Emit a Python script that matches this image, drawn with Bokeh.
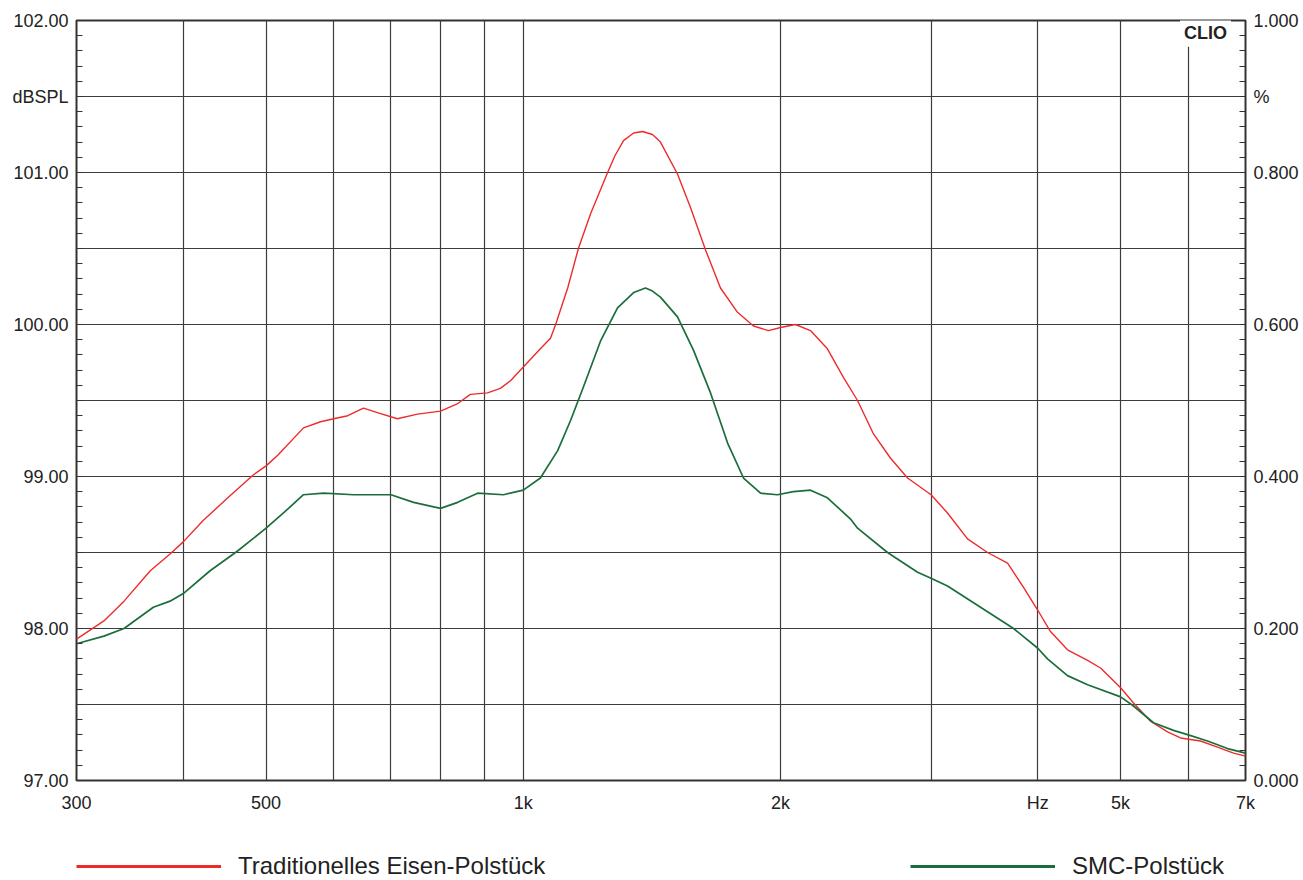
from bokeh.plotting import figure
from bokeh.layouts import column
from bokeh.models import (FixedTicker, NumeralTickFormatter, LinearAxis, Range1d,
                          Label, Legend, LegendItem, ColumnDataSource)
from bokeh.embed import file_html
from bokeh.resources import INLINE

# ---- data ----
red_freq = [300, 323, 341, 366, 386, 400, 422, 451, 483, 500, 516, 553, 579, 600, 623, 650, 675, 712,
            752, 800, 838, 867, 908, 940, 966, 1000, 1047, 1076, 1091, 1127, 1160, 1199, 1255, 1280,
            1310, 1346, 1379, 1416, 1447, 1515, 1569, 1634, 1701, 1781, 1859, 1936, 2000, 2082, 2168,
            2269, 2370, 2461, 2569, 2690, 2816, 3000, 3136, 3310, 3493, 3687, 3849, 4000, 4139, 4333,
            4574, 4737, 5000, 5177, 5420, 5673, 5876, 6201, 6491, 6778, 7000]
red_db = [97.93, 98.05, 98.18, 98.38, 98.49, 98.57, 98.71, 98.86, 99.01, 99.07, 99.14, 99.32, 99.36,
          99.38, 99.40, 99.45, 99.42, 99.38, 99.41, 99.43, 99.48, 99.54, 99.55, 99.58, 99.63, 99.72,
          99.84, 99.91, 100.0, 100.24, 100.50, 100.73, 101.0, 101.11, 101.21, 101.26, 101.27, 101.25,
          101.20, 100.99, 100.77, 100.49, 100.24, 100.08, 99.99, 99.96, 99.98, 100.0, 99.96, 99.84,
          99.65, 99.50, 99.28, 99.12, 98.99, 98.88, 98.76, 98.59, 98.50, 98.43, 98.27, 98.12, 97.98,
          97.86, 97.79, 97.74, 97.61, 97.51, 97.39, 97.32, 97.28, 97.26, 97.22, 97.18, 97.16]

green_freq = [300, 323, 341, 369, 386, 400, 430, 463, 500, 524, 553, 584, 633, 700, 744, 800, 838, 884,
              948, 1000, 1047, 1097, 1136, 1176, 1231, 1289, 1346, 1390, 1416, 1447, 1515, 1582, 1656,
              1734, 1810, 1895, 1983, 2071, 2168, 2269, 2415, 2461, 2668, 2893, 3000, 3136, 3364, 3747,
              4000, 4106, 4333, 4574, 5000, 5177, 5463, 5766, 6000, 6319, 6669, 7000]
green_db = [97.90, 97.95, 98.0, 98.14, 98.18, 98.23, 98.38, 98.51, 98.66, 98.76, 98.88, 98.89, 98.88,
            98.88, 98.83, 98.79, 98.83, 98.89, 98.88, 98.91, 98.99, 99.17, 99.37, 99.59, 99.89, 100.11,
            100.21, 100.24, 100.22, 100.18, 100.05, 99.83, 99.55, 99.22, 98.99, 98.89, 98.88, 98.90,
            98.91, 98.86, 98.72, 98.66, 98.50, 98.37, 98.33, 98.28, 98.17, 98.0, 97.87, 97.80, 97.69,
            97.63, 97.55, 97.49, 97.38, 97.33, 97.30, 97.26, 97.21, 97.18]

series_names = ["Traditionelles Eisen-Polstück", "SMC-Polstück"]

x_ticks = [300, 500, 1000, 2000, 4000, 5000, 7000]
x_tick_labels = ["300", "500", "1k", "2k", "Hz", "5k", "7k"]
x_grid = [400, 500, 600, 700, 800, 900, 1000, 2000, 3000, 4000, 5000, 6000]

y_ticks = [97, 98, 99, 100, 101, 102]
y_unit_pos, y_unit = 101.5, "dBSPL"
y_grid = [97.5, 98, 98.5, 99, 99.5, 100, 100.5, 101, 101.5]
y_minor = [round(97 + 0.1 * i, 2) for i in range(51)]

r_ticks = [0.0, 0.2, 0.4, 0.6, 0.8, 1.0]
r_unit_pos, r_unit = 0.9, "%"
r_minor = [round(0.02 * i, 3) for i in range(51)]

RED = "#ee2b2b"
GREEN = "#1b6e3c"
FONT = "Liberation Sans"
TXT = "#222222"

p = figure(x_axis_type="log", x_range=(300, 7000), y_range=(97, 102),
           frame_width=1169, frame_height=760,
           min_border_left=76, min_border_right=55, min_border_top=20, min_border_bottom=40,
           output_backend="svg", toolbar_location=None,
           background_fill_color="white", border_fill_color="white")

p.outline_line_color = "#333333"
p.outline_line_width = 2

# grids
p.xgrid.ticker = FixedTicker(ticks=x_grid)
p.ygrid.ticker = FixedTicker(ticks=y_grid)
for g in (p.xgrid[0], p.ygrid[0]):
    g.grid_line_color = "#3c3c3c"
    g.grid_line_width = 1.2

# x axis
xa = p.xaxis[0]
xa.ticker = FixedTicker(ticks=x_ticks)
xa.major_label_overrides = {t: l for t, l in zip(x_ticks, x_tick_labels)}
xa.axis_line_color = None
xa.major_tick_line_color = None
xa.major_tick_out = 0
xa.major_tick_in = 0
xa.minor_tick_line_color = None
xa.minor_tick_out = 0
xa.major_label_standoff = 12
xa.major_label_text_font = FONT
xa.major_label_text_font_size = "18px"
xa.major_label_text_color = TXT

# left axis
ya = p.yaxis[0]
ya.ticker = FixedTicker(ticks=y_ticks + [y_unit_pos], minor_ticks=y_minor)
ya.formatter = NumeralTickFormatter(format="0.00")
ya.major_label_overrides = {y_unit_pos: y_unit}
ya.axis_line_color = None
ya.major_tick_line_color = None
ya.major_tick_out = 0
ya.major_tick_in = 0
ya.minor_tick_in = 6
ya.minor_tick_out = 0
ya.minor_tick_line_color = "#333333"
ya.minor_tick_line_width = 1.2
ya.major_label_standoff = 8
ya.major_label_text_font = FONT
ya.major_label_text_font_size = "18px"
ya.major_label_text_color = TXT

# right axis
p.extra_y_ranges = {"pct": Range1d(0, 1)}
ra = LinearAxis(y_range_name="pct")
ra.ticker = FixedTicker(ticks=r_ticks + [r_unit_pos], minor_ticks=r_minor)
ra.formatter = NumeralTickFormatter(format="0.000")
ra.major_label_overrides = {r_unit_pos: r_unit}
ra.axis_line_color = None
ra.major_tick_line_color = None
ra.major_tick_out = 0
ra.major_tick_in = 0
ra.minor_tick_in = 6
ra.minor_tick_out = 0
ra.minor_tick_line_color = "#333333"
ra.minor_tick_line_width = 1.2
ra.major_label_standoff = 8
ra.major_label_text_font = FONT
ra.major_label_text_font_size = "18px"
ra.major_label_text_color = TXT
p.add_layout(ra, "right")

# curves
src_r = ColumnDataSource(dict(f=red_freq, db=red_db))
src_g = ColumnDataSource(dict(f=green_freq, db=green_db))
p.line("f", "db", source=src_r, line_color=RED, line_width=1.4, line_join="round")
p.line("f", "db", source=src_g, line_color=GREEN, line_width=1.7, line_join="round")

# CLIO badge
clio = Label(x=6285, y=101.92, text="CLIO", text_align="center", text_baseline="middle",
             text_font=FONT, text_font_style="bold", text_font_size="18px", text_color=TXT,
             background_fill_color="white", padding=4)
p.add_layout(clio)

# ---- legend strip below the chart (same series, outside this strip's view) ----
lf = figure(width=1300, height=60, x_range=Range1d(0, 1), y_range=Range1d(0, 1),
            min_border=0, output_backend="svg", toolbar_location=None,
            background_fill_color="white", border_fill_color="white")
lf.axis.visible = False
lf.grid.visible = False
lf.outline_line_color = None
lr = lf.line("f", "db", source=src_r, line_color=RED, line_width=3)
lg = lf.line("f", "db", source=src_g, line_color=GREEN, line_width=3)
legend = Legend(items=[LegendItem(label=series_names[0], renderers=[lr]),
                       LegendItem(label=series_names[1], renderers=[lg])],
                orientation="horizontal", location=(0, 0),
                glyph_width=145, glyph_height=28, label_height=28,
                label_standoff=17, label_width=672, spacing=0,
                padding=0, margin=0,
                border_line_color=None, background_fill_alpha=0,
                label_text_font=FONT, label_text_font_size="24px",
                label_text_color=TXT, label_text_baseline="middle")
lf.add_layout(legend, "center")

page = column(p, lf, spacing=0)
open("out.html", "w").write(file_html(page, INLINE))
